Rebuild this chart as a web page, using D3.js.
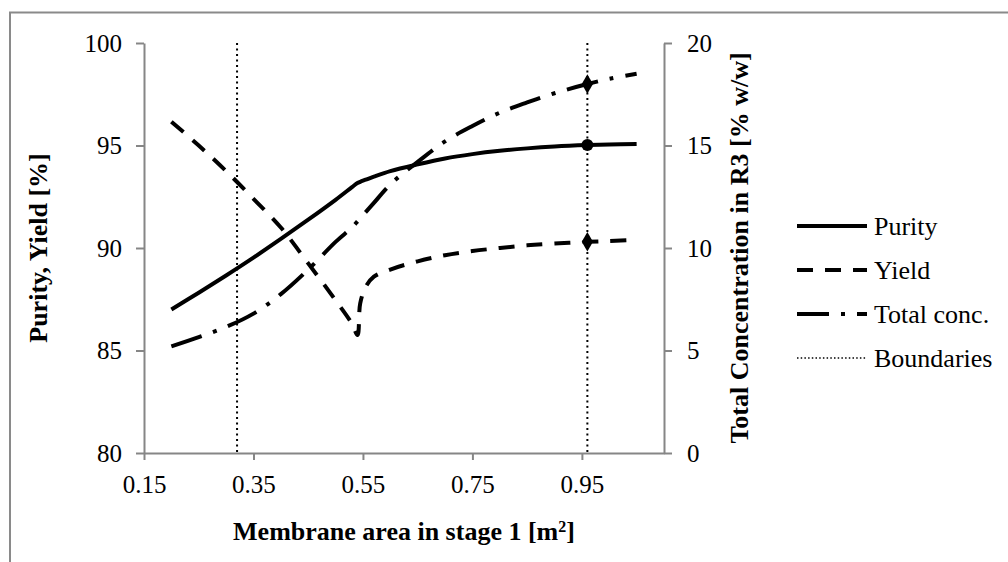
<!DOCTYPE html>
<html>
<head>
<meta charset="utf-8">
<script src="https://cdn.jsdelivr.net/npm/d3@7"></script>
<style>
  html, body { margin: 0; padding: 0; background: #fff; }
  svg { display: block; }
  text { font-family: "Liberation Serif", "Times New Roman", serif; fill: #000; }
</style>
</head>
<body>
<svg id="chart" width="1008" height="562"></svg>
<script>
// ---- Data ----
const areaX      = [0.20, 0.25, 0.30, 0.35, 0.40, 0.45, 0.50, 0.53, 0.54, 0.545, 0.555, 0.57, 0.60, 0.65, 0.70, 0.75, 0.80, 0.85, 0.90, 0.96, 1.00, 1.05];
const purity     = [87.0, 87.82, 88.66, 89.53, 90.44, 91.38, 92.35, 92.97, 93.17, 93.23, 93.33, 93.48, 93.75, 94.08, 94.37, 94.58, 94.74, 94.86, 94.95, 95.02, 95.05, 95.07];
const yieldVals  = [96.16, 95.0, 93.75, 92.4, 91.0, 89.25, 87.45, 86.3, 85.75, 87.3, 88.1, 88.6, 88.95, 89.35, 89.65, 89.85, 90.0, 90.13, 90.22, 90.3, 90.34, 90.4];
const totalConc  = [5.2, 5.65, 6.15, 6.8, 7.75, 8.95, 10.3, 11.0, 11.3, 11.45, 11.75, 12.2, 13.1, 14.2, 15.2, 15.95, 16.6, 17.1, 17.55, 18.0, 18.25, 18.5];
const boundaries = [0.32, 0.96];
const markerX    = 0.96;
const markerPurity = 95.02, markerYield = 90.3, markerConc = 18.0;

const xTicks  = [0.15, 0.35, 0.55, 0.75, 0.95];
const yLTicks = [80, 85, 90, 95, 100];
const yRTicks = [0, 5, 10, 15, 20];
const legendLabels = ["Purity", "Yield", "Total conc.", "Boundaries"];

const xTitle  = "Membrane area in stage 1 [m";
const yLTitle = "Purity, Yield [%]";
const yRTitle = "Total Concentration in R3 [% w/w]";

// ---- Layout ----
const svg = d3.select("#chart");
const L = 144, R = 664, T = 43, B = 453;
const axisColor = "#868686";
const fs = 25;

const x  = d3.scaleLinear().domain([0.15, 1.10]).range([L, R]);
const yL = d3.scaleLinear().domain([80, 100]).range([B, T]);
const yR = d3.scaleLinear().domain([0, 20]).range([B, T]);

// outer frame
svg.append("path")
  .attr("d", "M10,562 V12.5 H1008")
  .attr("fill", "none").attr("stroke", "#8a8a8a").attr("stroke-width", 2);

function styleAxis(g) {
  g.select(".domain").attr("stroke", axisColor).attr("stroke-width", 2);
  g.selectAll(".tick line").attr("stroke", axisColor).attr("stroke-width", 2);
  g.selectAll(".tick text").attr("font-family", "Liberation Serif").attr("font-size", fs).attr("fill", "#000");
}

// axes
const gx = svg.append("g").attr("transform", `translate(0,${B})`)
  .call(d3.axisBottom(x).tickValues(xTicks).tickFormat(d3.format(".2f")).tickSize(7).tickSizeOuter(0).tickPadding(25));
styleAxis(gx);
gx.selectAll(".tick text").attr("dy", "0.32em");

const gyl = svg.append("g").attr("transform", `translate(${L},0)`)
  .call(d3.axisLeft(yL).tickValues(yLTicks).tickSize(8).tickSizeOuter(0).tickPadding(14));
styleAxis(gyl);

const gyr = svg.append("g").attr("transform", `translate(${R},0)`)
  .call(d3.axisRight(yR).tickValues(yRTicks).tickSize(8).tickSizeOuter(0).tickPadding(15));
styleAxis(gyr);

// axis titles
const xt = svg.append("text").attr("x", 404).attr("y", 540)
  .attr("text-anchor", "middle").attr("font-weight", "bold").attr("font-size", 26)
  .text(xTitle);
xt.append("tspan").attr("baseline-shift", "super").attr("font-size", 16).text("2");
xt.append("tspan").text("]");

svg.append("text")
  .attr("transform", `translate(38,248) rotate(-90)`)
  .attr("text-anchor", "middle").attr("dy", "0.35em")
  .attr("font-weight", "bold").attr("font-size", 26)
  .text(yLTitle);

svg.append("text")
  .attr("transform", `translate(739,248) rotate(-90)`)
  .attr("text-anchor", "middle").attr("dy", "0.35em")
  .attr("font-weight", "bold").attr("font-size", 26)
  .text(yRTitle);

// boundaries
svg.selectAll(".bound").data(boundaries).enter().append("line")
  .attr("x1", d => x(d)).attr("x2", d => x(d))
  .attr("y1", yL(100)).attr("y2", yL(80))
  .attr("stroke", "#000").attr("stroke-width", 2).attr("stroke-dasharray", "2,3.5");

// series
const idx = d3.range(areaX.length);
const curve = d3.curveCatmullRom.alpha(0.5);
const linePurity = d3.line().curve(curve).x(i => x(areaX[i])).y(i => yL(purity[i]));
const lineYield  = d3.line().curve(curve).x(i => x(areaX[i])).y(i => yL(yieldVals[i]));
const lineConc   = d3.line().curve(curve).x(i => x(areaX[i])).y(i => yR(totalConc[i]));

const styles = {
  purity: null,
  yield: "16,12",
  conc: "32,12,4,12",
  bound: "1.5,2.2"
};

svg.append("path").attr("d", linePurity(idx)).attr("fill", "none")
  .attr("stroke", "#000").attr("stroke-width", 4);
svg.append("path").attr("d", lineYield(idx)).attr("fill", "none")
  .attr("stroke", "#000").attr("stroke-width", 4).attr("stroke-dasharray", styles.yield);
svg.append("path").attr("d", lineConc(idx)).attr("fill", "none")
  .attr("stroke", "#000").attr("stroke-width", 4).attr("stroke-dasharray", styles.conc);

// markers
svg.append("circle").attr("cx", x(markerX)).attr("cy", yL(markerPurity)).attr("r", 6).attr("fill", "#000");
svg.append("path").attr("d", d3.symbol(d3.symbolDiamond, 110)())
  .attr("transform", `translate(${x(markerX)},${yL(markerYield)})`).attr("fill", "#000");
svg.append("path").attr("d", d3.symbol(d3.symbolDiamond, 110)())
  .attr("transform", `translate(${x(markerX)},${yR(markerConc)})`).attr("fill", "#000");

// legend
const legY = [226, 270, 314, 358];
const legDash = [null, styles.yield, styles.conc, styles.bound];
const legW = [4, 4, 4, 1.5];
const leg = svg.append("g");
legendLabels.forEach((lab, i) => {
  leg.append("line").attr("x1", 797).attr("x2", 867).attr("y1", legY[i]).attr("y2", legY[i])
    .attr("stroke", "#000").attr("stroke-width", legW[i])
    .attr("stroke-dasharray", legDash[i]);
  leg.append("text").attr("x", 874).attr("y", legY[i]).attr("dy", "0.35em")
    .attr("font-size", 26).text(lab);
});
</script>
</body>
</html>
